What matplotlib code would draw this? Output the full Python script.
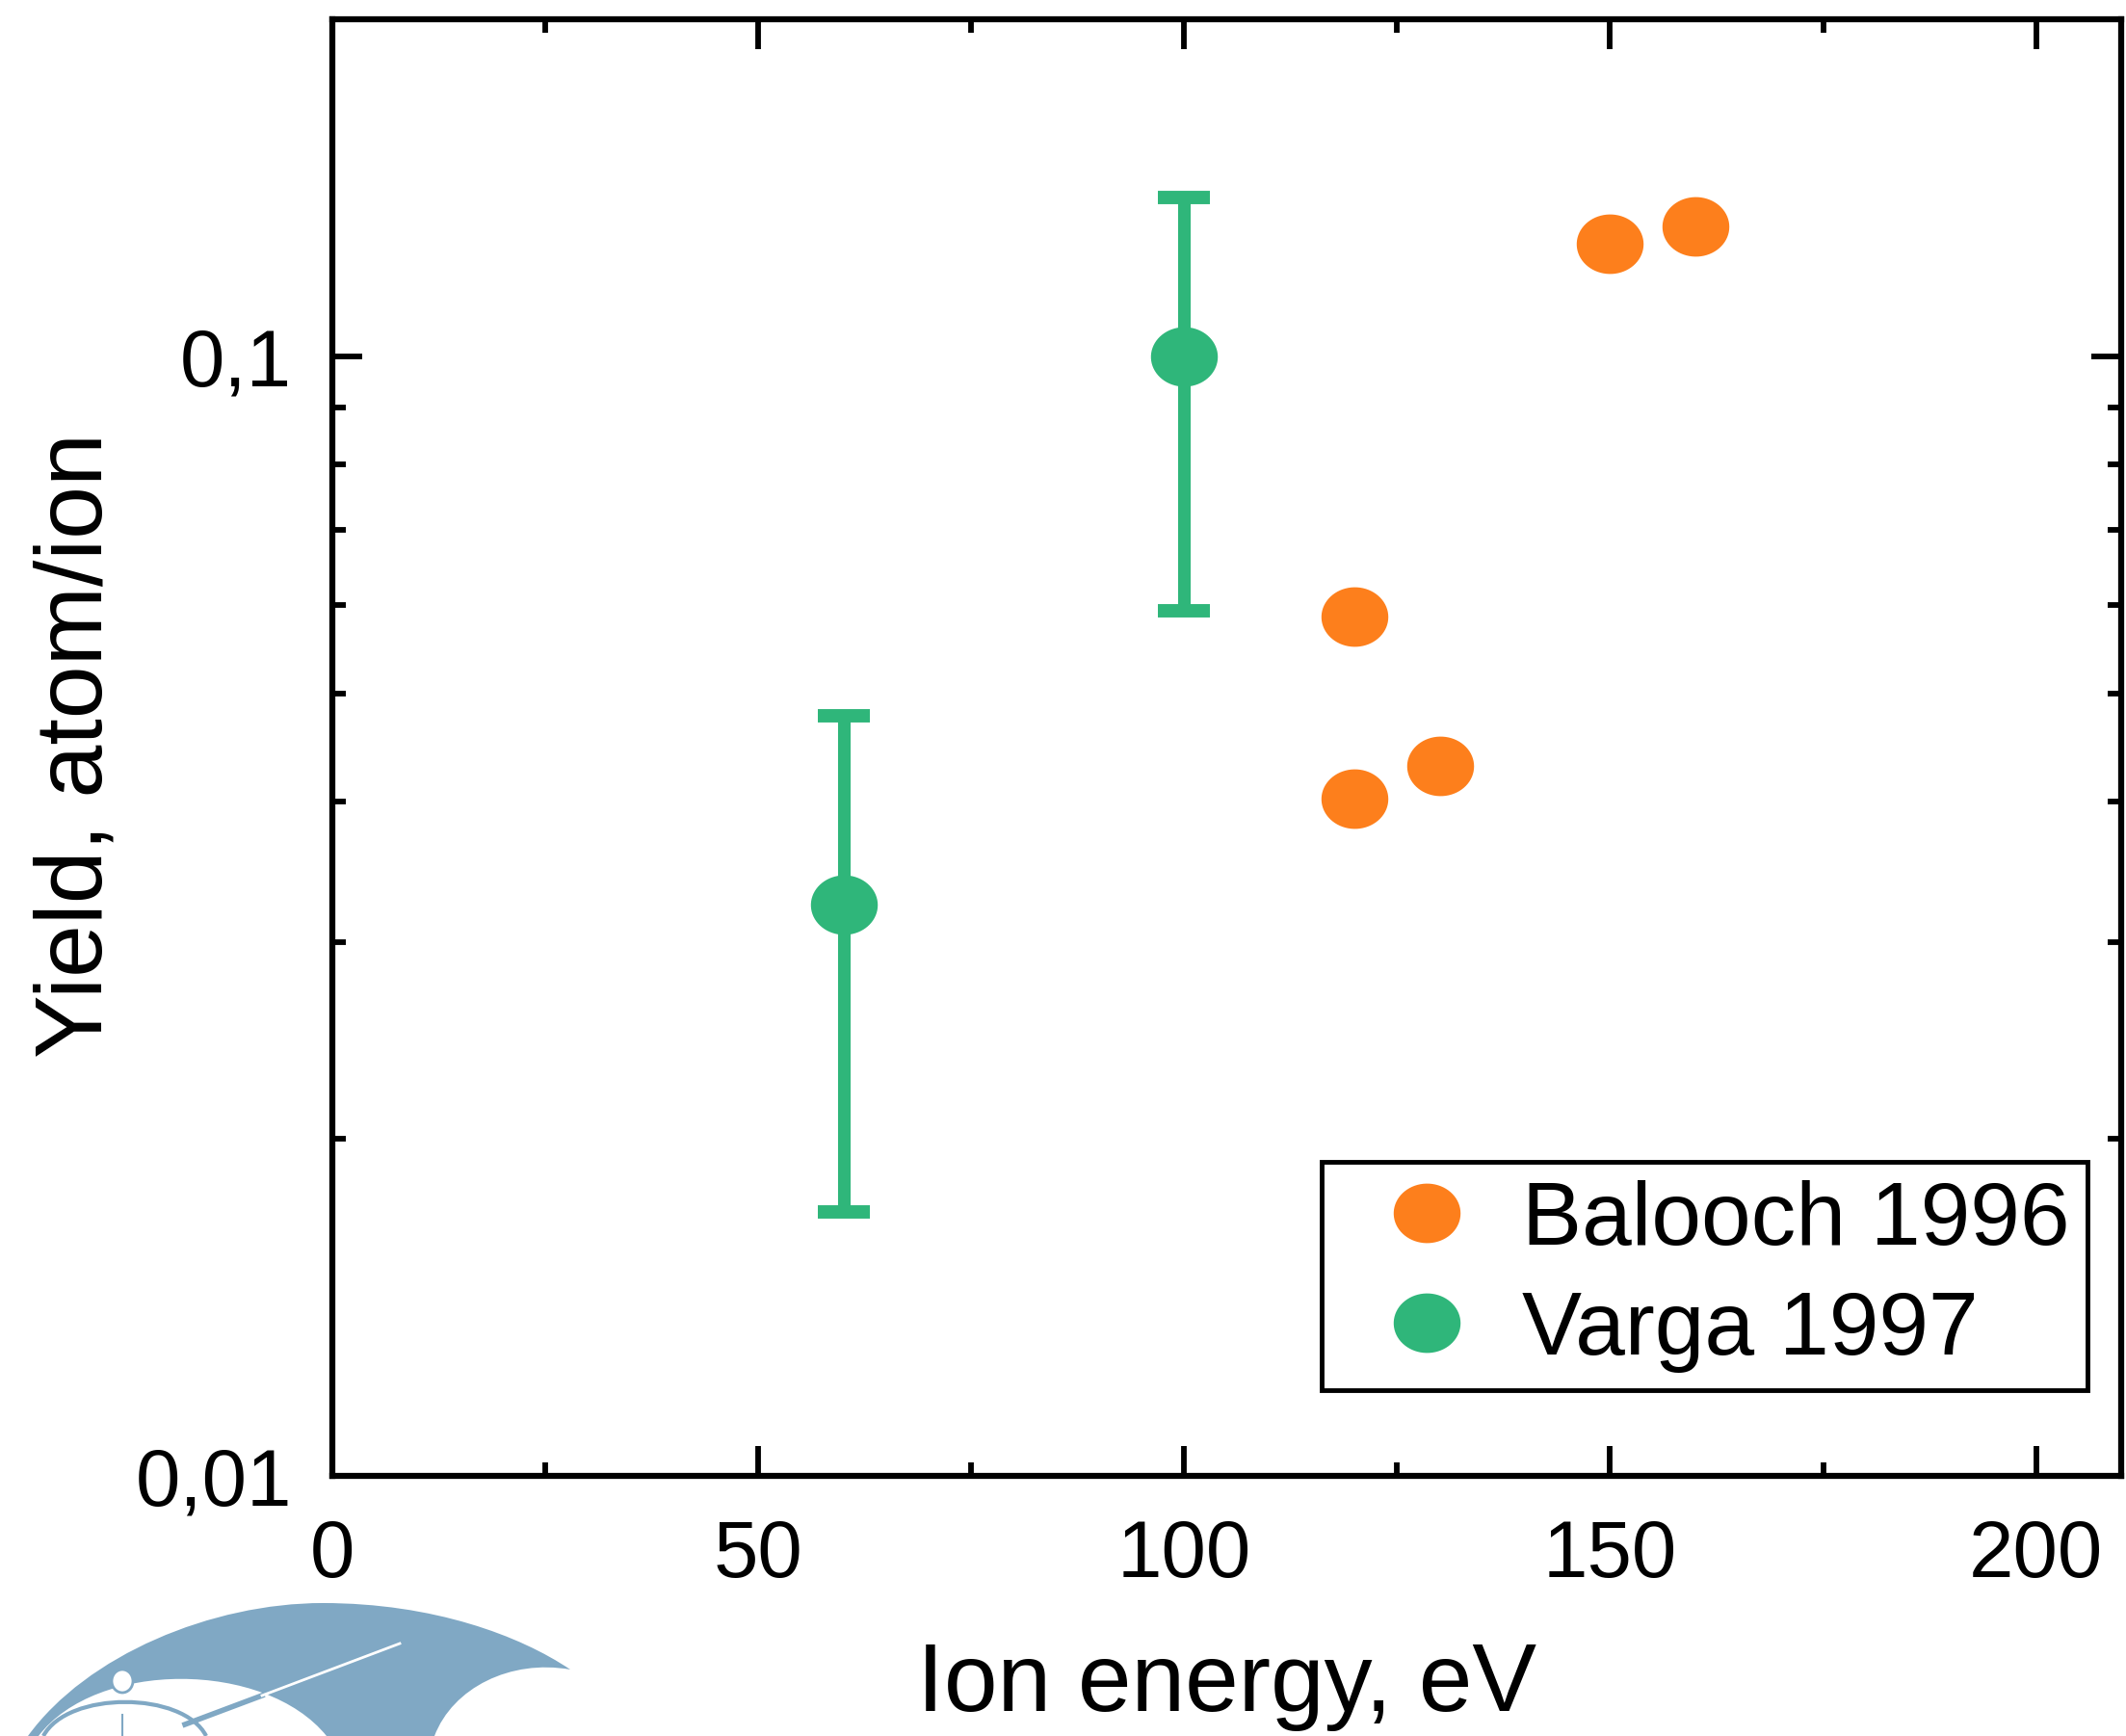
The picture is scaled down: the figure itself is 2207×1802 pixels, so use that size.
import numpy as np
import matplotlib
matplotlib.use("Agg")
import matplotlib.pyplot as plt
from matplotlib.path import Path
from matplotlib.patches import PathPatch, Ellipse
from matplotlib.lines import Line2D
from matplotlib.ticker import FixedLocator, FixedFormatter, LogLocator, NullFormatter, MultipleLocator

plt.rcParams['font.family'] = ['Liberation Sans', 'DejaVu Sans']

# Sputtering yield data
balooch_energy = [120, 120, 130, 150, 160]
balooch_yield = [0.0585, 0.0403, 0.0431, 0.126, 0.1305]

varga_energy = [60, 100]
varga_yield = [0.0324, 0.1]
varga_low = [0.0172, 0.0593]
varga_high = [0.0477, 0.1387]

x_ticks = [0, 50, 100, 150, 200]
y_ticks = [0.01, 0.1]
y_tick_labels = ['0,01', '0,1']

ORANGE = '#fd7f1c'
GREEN = '#2fb67a'
LOGO = '#80a8c4'

W, H = 2207, 1802
fig = plt.figure(figsize=(W / 100, H / 100), dpi=100)
fig.patch.set_facecolor('white')

ax = fig.add_axes([345 / W, 1 - 1532 / H, (2202 - 345) / W, (1532 - 20) / H])
ax.set_yscale('log')
ax.set_xlim(0, 210)
ax.set_ylim(0.01, 0.2)

# slightly wide elliptical marker
t = np.linspace(0, 2 * np.pi, 72)
ell = Path(np.column_stack([np.cos(t), 0.89 * np.sin(t)]), closed=True)
msize = 50

yerr = [np.array(varga_yield) - np.array(varga_low),
        np.array(varga_high) - np.array(varga_yield)]
ax.errorbar(varga_energy, varga_yield, yerr=yerr, fmt='none', ecolor=GREEN,
            elinewidth=9.4, capsize=19.5, capthick=10, zorder=3)
ax.plot(varga_energy, varga_yield, linestyle='none', marker=ell, markersize=msize,
        color=GREEN, markeredgewidth=0, zorder=4)
ax.plot(balooch_energy, balooch_yield, linestyle='none', marker=ell, markersize=msize,
        color=ORANGE, markeredgewidth=0, zorder=4)

# axes styling
for sp in ax.spines.values():
    sp.set_linewidth(4.5)
ax.xaxis.set_major_locator(FixedLocator(x_ticks))
ax.xaxis.set_minor_locator(MultipleLocator(25))
ax.yaxis.set_major_locator(FixedLocator(y_ticks))
ax.yaxis.set_major_formatter(FixedFormatter(y_tick_labels))
ax.yaxis.set_minor_locator(LogLocator(base=10, subs=np.arange(2, 10)))
ax.yaxis.set_minor_formatter(NullFormatter())
ax.tick_params(which='both', direction='in', top=True, right=True, width=4.2, colors='black')
ax.tick_params(which='major', length=22)
ax.tick_params(which='minor', length=10)
ax.tick_params(axis='x', which='major', labelsize=60, pad=32)
ax.tick_params(axis='y', which='major', labelsize=60, pad=30)

fig.text(1274 / W, 1 - 1776 / H, 'Ion energy, eV', fontsize=72, ha='center', va='baseline')
fig.text(80 / W, 1 - 774 / H, 'Yield, atom/ion', fontsize=71, ha='center', va='center',
         rotation=90)

handles = [Line2D([], [], linestyle='none', marker=ell, markersize=msize, color=ORANGE,
                  markeredgewidth=0),
           Line2D([], [], linestyle='none', marker=ell, markersize=msize, color=GREEN,
                  markeredgewidth=0)]
leg = ax.legend(handles, ['Balooch 1996', 'Varga 1997'], fontsize=67,
                loc='upper left', bbox_to_anchor=(1372 / W, 1 - 1206 / H),
                bbox_transform=fig.transFigure, borderaxespad=0, borderpad=0.2,
                handlelength=1.95, handletextpad=0.08, labelspacing=0.3,
                fancybox=False, framealpha=1, edgecolor='black', numpoints=1)
leg.get_frame().set_linewidth(3.5)


# emblem in the lower-left corner, drawn with Bezier curves in pixel units
def to_fig(pts):
    return [(x / W, 1 - y / H) for x, y in pts]


def bezier_patch(pts, codes, **kw):
    return PathPatch(Path(to_fig(pts), codes), transform=fig.transFigure, **kw)


C4, M, L = Path.CURVE4, Path.MOVETO, Path.LINETO
outer_pts = [(29, 1802), (90, 1718), (220, 1664), (335, 1664),
             (450, 1664), (540, 1698), (592, 1733),
             (530, 1722), (470, 1752), (451, 1802),
             (29, 1802)]
outer_codes = [M, C4, C4, C4, C4, C4, C4, C4, C4, C4, L]
fig.add_artist(bezier_patch(outer_pts, outer_codes, facecolor=LOGO, edgecolor='none'))

dial_pts = [(40, 1802), (100, 1723), (275, 1723), (339, 1802), (40, 1802)]
fig.add_artist(bezier_patch(dial_pts, [M, C4, C4, C4, L], facecolor='white', edgecolor='none'))

arc_pts = [(45, 1802), (70, 1755), (190, 1755), (214, 1802)]
fig.add_artist(bezier_patch(arc_pts, [M, C4, C4, C4], facecolor='none', edgecolor=LOGO,
                            linewidth=3))

xs, ys = zip(*to_fig([(127, 1780), (127, 1802)]))
fig.add_artist(Line2D(xs, ys, color=LOGO, linewidth=1.5, transform=fig.transFigure))
xs, ys = zip(*to_fig([(192, 1790), (272, 1760)]))
fig.add_artist(Line2D(xs, ys, color=LOGO, linewidth=4, transform=fig.transFigure))
xs, ys = zip(*to_fig([(272, 1760), (415, 1706)]))
fig.add_artist(Line2D(xs, ys, color='white', linewidth=2, transform=fig.transFigure))
fig.add_artist(Ellipse((127 / W, 1 - 1745 / H), 22 / W, 24 / H, facecolor='white',
                       edgecolor=LOGO, linewidth=2, transform=fig.transFigure))

fig.savefig('out.png', dpi=100)
